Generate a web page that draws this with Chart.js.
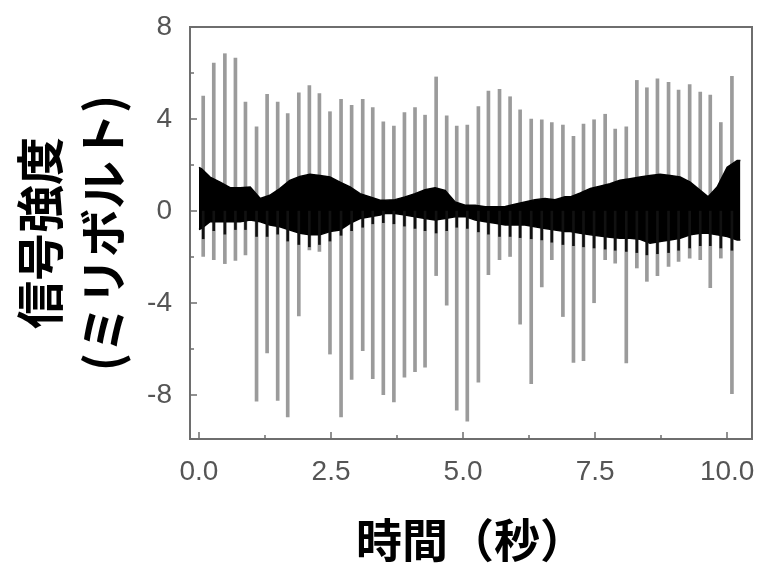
<!DOCTYPE html>
<html>
<head>
<meta charset="utf-8">
<script src="https://cdn.jsdelivr.net/npm/chart.js@4.4.1/dist/chart.umd.min.js"></script>
<style>
  html, body { margin: 0; padding: 0; background: #fff; }
  #wrap { width: 763px; height: 565px; }
</style>
</head>
<body>
<div id="wrap"><canvas id="signalChart"></canvas></div>
<script>
// spike times (s)
const spikeTimes = [0.08, 0.28, 0.49, 0.69, 0.88, 1.09, 1.29, 1.49, 1.68, 1.89,
  2.09, 2.28, 2.48, 2.69, 2.89, 3.10, 3.29, 3.49, 3.69, 3.89,
  4.09, 4.28, 4.49, 4.69, 4.88, 5.08, 5.29, 5.48, 5.69, 5.89,
  6.08, 6.29, 6.49, 6.68, 6.89, 7.09, 7.28, 7.48, 7.69, 7.88,
  8.09, 8.29, 8.48, 8.68, 8.89, 9.08, 9.29, 9.49, 9.68, 9.88, 10.09];
// spike tops and bottoms (mV)
const spikeHigh = [5.0, 6.43, 6.84, 6.65, 4.74, 3.66, 5.07, 4.74, 4.24, 5.14,
  5.46, 5.11, 4.32, 4.86, 4.6, 4.86, 4.5, 3.88, 3.7, 4.28,
  4.5, 4.17, 5.83, 4.14, 3.7, 3.74, 4.54, 5.22, 5.29, 4.97,
  4.4, 4.0, 3.97, 3.85, 3.74, 3.25, 3.78, 3.97, 4.21, 3.56,
  3.66, 5.68, 5.36, 5.75, 5.6, 5.26, 5.5, 5.17, 5.04, 3.85, 5.86];
const spikeLow = [-1.97, -2.11, -2.28, -2.14, -1.9, -8.26, -6.16, -8.22, -8.94, -4.55,
  -1.68, -1.75, -6.21, -8.94, -7.31, -6.06, -7.28, -7.97, -8.29, -7.21,
  -6.97, -6.78, -2.8, -4.09, -8.65, -9.12, -7.43, -2.76, -2.11, -1.97,
  -4.91, -7.5, -3.29, -2.11, -4.58, -6.57, -6.5, -3.98, -2.11, -2.26,
  -6.6, -2.47, -3.05, -2.8, -2.4, -2.19, -2.04, -2.11, -3.33, -2.04, -7.93];
// dark part of each spike just under the band
const toothLow = [-1.2, -0.85, -1.0, -0.8, -0.8, -1.1, -1.1, -1.0, -1.3, -1.45,
  -1.55, -1.45, -1.3, -1.05, -0.85, -0.7, -0.55, -0.5, -0.55, -0.65,
  -0.75, -0.85, -0.95, -0.85, -0.7, -0.75, -0.9, -1.0, -1.1, -1.1,
  -1.15, -1.2, -1.25, -1.35, -1.45, -1.5, -1.55, -1.6, -1.65, -1.7,
  -1.75, -1.8, -1.9, -1.85, -1.8, -1.7, -1.6, -1.5, -1.5, -1.6, -1.7];

// envelope of the dense black oscillation
const bandTimes = [0.0, 0.05, 0.21, 0.40, 0.59, 0.78, 0.97, 1.16, 1.34, 1.53,
  1.72, 1.91, 2.10, 2.29, 2.48, 2.67, 2.86, 3.05, 3.24, 3.43,
  3.52, 3.71, 3.90, 4.09, 4.28, 4.47, 4.66, 4.85, 5.04, 5.23,
  5.42, 5.61, 5.80, 5.98, 6.17, 6.36, 6.55, 6.74, 6.93, 7.03,
  7.22, 7.41, 7.59, 7.78, 7.97, 8.16, 8.35, 8.54, 8.73, 8.92,
  9.11, 9.30, 9.49, 9.64, 9.81, 10.00, 10.19, 10.25];
const bandUpper = [1.9, 1.84, 1.48, 1.26, 1.02, 1.02, 1.05, 0.55, 0.69, 0.98,
  1.34, 1.51, 1.6, 1.55, 1.48, 1.26, 1.05, 0.76, 0.62, 0.47,
  0.47, 0.5, 0.62, 0.76, 0.93, 1.02, 0.9, 0.4, 0.26, 0.26,
  0.19, 0.19, 0.2, 0.3, 0.4, 0.5, 0.55, 0.5, 0.62, 0.62,
  0.79, 0.98, 1.08, 1.19, 1.34, 1.41, 1.48, 1.55, 1.6, 1.55,
  1.48, 1.26, 0.9, 0.62, 1.05, 1.91, 2.2, 2.2];
const bandLower = [-0.8, -0.75, -0.46, -0.46, -0.46, -0.46, -0.39, -0.46, -0.6, -0.68,
  -0.82, -0.96, -1.03, -1.03, -0.89, -0.82, -0.53, -0.32, -0.24, -0.17,
  -0.1, -0.1, -0.17, -0.24, -0.32, -0.39, -0.32, -0.24, -0.24, -0.39,
  -0.46, -0.53, -0.6, -0.6, -0.6, -0.68, -0.75, -0.82, -0.89, -0.89,
  -0.96, -1.03, -1.08, -1.13, -1.18, -1.18, -1.22, -1.39, -1.32, -1.25,
  -1.18, -1.03, -0.96, -0.96, -1.03, -1.1, -1.25, -1.25];

const xTicks = [0, 2.5, 5, 7.5, 10];
const xMinorTicks = [1.25, 3.75, 6.25, 8.75];
const yTicks = [-8, -4, 0, 4, 8];
const yMinorTicks = [-6, -2, 2, 6];

// box around the plot plus inward tick marks
const framePlugin = {
  id: 'frame',
  afterDraw(chart) {
    const { ctx, chartArea: a } = chart;
    const x = chart.scales.x, y = chart.scales.y;
    ctx.save();
    ctx.strokeStyle = '#6e6e6e';
    ctx.lineWidth = 2;
    ctx.strokeRect(a.left, a.top, a.right - a.left, a.bottom - a.top);
    ctx.lineWidth = 1.5;
    ctx.beginPath();
    xTicks.forEach(v => {
      const px = Math.round(x.getPixelForValue(v));
      ctx.moveTo(px, a.bottom); ctx.lineTo(px, a.bottom - 7);
    });
    xMinorTicks.forEach(v => {
      const px = Math.round(x.getPixelForValue(v));
      ctx.moveTo(px, a.bottom); ctx.lineTo(px, a.bottom - 4);
    });
    yTicks.forEach(v => {
      const py = Math.round(y.getPixelForValue(v));
      ctx.moveTo(a.left, py); ctx.lineTo(a.left + 7, py);
    });
    yMinorTicks.forEach(v => {
      const py = Math.round(y.getPixelForValue(v));
      ctx.moveTo(a.left, py); ctx.lineTo(a.left + 4, py);
    });
    ctx.stroke();
    ctx.restore();
  }
};

const ctx = document.getElementById('signalChart').getContext('2d');
const signalChart = new Chart(ctx, {
  type: 'bar',
  data: {
    datasets: [
      {
        type: 'bar',
        label: 'spikes',
        data: spikeTimes.map((t, i) => ({ x: t, y: [spikeLow[i], spikeHigh[i]] })),
        backgroundColor: '#9b9b9b',
        barThickness: 3,
        grouped: false,
        order: 3
      },
      {
        type: 'line',
        label: 'upper',
        data: bandTimes.map((t, i) => ({ x: t, y: bandUpper[i] })),
        borderColor: '#000',
        borderWidth: 1.5,
        pointRadius: 0,
        fill: false,
        order: 1
      },
      {
        type: 'line',
        label: 'lower',
        data: bandTimes.map((t, i) => ({ x: t, y: bandLower[i] })),
        borderColor: '#000',
        backgroundColor: '#000',
        borderWidth: 1.5,
        pointRadius: 0,
        fill: '-1',
        order: 1
      },
      {
        type: 'bar',
        label: 'teeth',
        data: spikeTimes.map((t, i) => ({ x: t, y: [toothLow[i], 0] })),
        backgroundColor: '#111',
        barThickness: 2,
        grouped: false,
        order: 0
      }
    ]
  },
  options: {
    responsive: true,
    maintainAspectRatio: false,
    animation: false,
    devicePixelRatio: 1,
    layout: { padding: { left: 0, right: 11, top: 27, bottom: 0 } },
    plugins: {
      legend: { display: false },
      tooltip: { enabled: false }
    },
    scales: {
      x: {
        type: 'linear',
        offset: false,
        min: -0.17,
        max: 10.47,
        afterBuildTicks: s => { s.ticks = xTicks.map(v => ({ value: v })); },
        afterFit: s => { s.height = 126; },
        grid: { display: false, offset: false },
        border: { display: false },
        ticks: {
          autoSkip: false,
          maxRotation: 0,
          padding: 8,
          color: '#555',
          font: { family: '"Liberation Sans", Arial, sans-serif', size: 28 },
          callback: v => v.toFixed(1)
        },
        title: {
          display: true,
          text: '時間（秒）',
          color: '#000',
          font: { family: '"Noto Sans CJK JP", sans-serif', size: 46, weight: 'bold', lineHeight: 1.1 },
          padding: { top: 0, bottom: 0 }
        }
      },
      y: {
        min: -9.9,
        max: 8,
        afterBuildTicks: s => { s.ticks = yTicks.map(v => ({ value: v })); },
        afterFit: s => { s.width = 190; },
        grid: { display: false },
        border: { display: false },
        ticks: {
          padding: 10,
          color: '#555',
          font: { family: '"Liberation Sans", Arial, sans-serif', size: 28 },
          callback: v => String(v)
        },
        title: {
          display: true,
          text: ['信号強度', '(ミリボルト)'],
          color: '#000',
          font: { family: '"Noto Sans CJK JP", sans-serif', size: 48, weight: 'bold', lineHeight: 1.3 },
          padding: { top: 9, bottom: 0 }
        }
      }
    }
  },
  plugins: [framePlugin]
});
</script>
</body>
</html>
